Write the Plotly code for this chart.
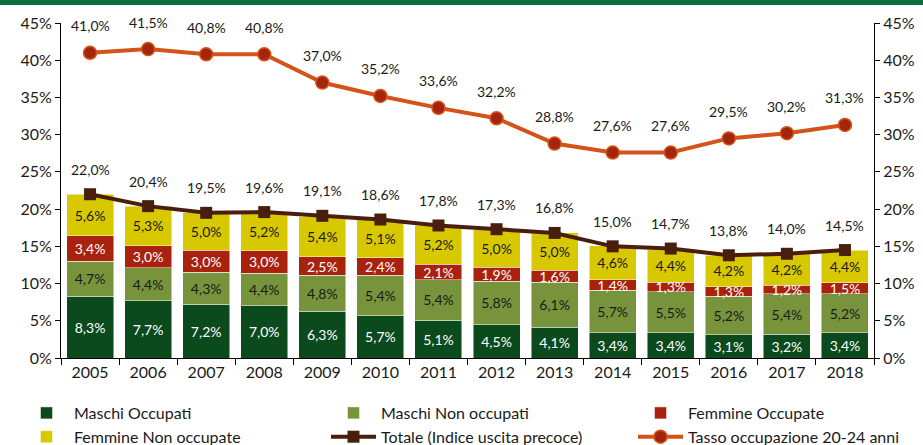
import plotly.graph_objects as go

years = ["2005","2006","2007","2008","2009","2010","2011","2012","2013","2014","2015","2016","2017","2018"]
maschi_occ = [8.3,7.7,7.2,7.0,6.3,5.7,5.1,4.5,4.1,3.4,3.4,3.1,3.2,3.4]
maschi_non = [4.7,4.4,4.3,4.4,4.8,5.4,5.4,5.8,6.1,5.7,5.5,5.2,5.4,5.2]
femm_occ = [3.4,3.0,3.0,3.0,2.5,2.4,2.1,1.9,1.6,1.4,1.3,1.3,1.2,1.5]
femm_non = [5.6,5.3,5.0,5.2,5.4,5.1,5.2,5.0,5.0,4.6,4.4,4.2,4.2,4.4]
totale = [22.0,20.4,19.5,19.6,19.1,18.6,17.8,17.3,16.8,15.0,14.7,13.8,14.0,14.5]
tasso = [41.0,41.5,40.8,40.8,37.0,35.2,33.6,32.2,28.8,27.6,27.6,29.5,30.2,31.3]

FONT = "Lato"
W, H = 923, 445
L, R, T, B = 61, 49, 23, 87

fig = go.Figure()
bars = [
    ("Maschi Occupati", maschi_occ, "#0b4a1c", "white", "legend"),
    ("Maschi Non occupati", maschi_non, "#77933c", "#1a1a1a", "legend2"),
    ("Femmine Occupate", femm_occ, "#a8220e", "white", "legend3"),
    ("Femmine Non occupate", femm_non, "#d8c800", "#1a1a1a", "legend"),
]
for name, vals, col, tcol, lg in bars:
    fig.add_trace(go.Bar(
        x=years, y=vals, name=name, legend=lg,
        marker=dict(color=col, line=dict(color="rgba(255,255,255,0.6)", width=0.8)),
        texttemplate="%{y:.1f}%", textposition="inside", insidetextanchor="middle",
        textfont=dict(color=tcol, size=14, family=FONT), textangle=0,
        constraintext="none", cliponaxis=False,
    ))

fig.add_trace(go.Scatter(
    x=years, y=totale, name="Totale (Indice uscita precoce)", mode="lines+markers",
    legend="legend2",
    line=dict(color="#4a1e0c", width=4),
    marker=dict(symbol="square", size=12, color="#4a1e0c"),
))
fig.add_trace(go.Scatter(
    x=years, y=tasso, name="Tasso occupazione 20-24 anni", mode="lines+markers",
    legend="legend3",
    line=dict(color="#d4531a", width=4),
    marker=dict(symbol="circle", size=13, color="#a3260c", line=dict(color="#d4531a", width=1.5)),
    xaxis="x", yaxis="y2",
))

anns = []
for i, v in enumerate(totale):
    anns.append(dict(x=i, y=v, xref="x", yref="y", text=f"{v:.1f}%".replace(".", ","), showarrow=False,
                     yshift=25, font=dict(size=14, family=FONT, color="#1a1a1a")))
for i, v in enumerate(tasso):
    anns.append(dict(x=i, y=v, xref="x", yref="y2", text=f"{v:.1f}%".replace(".", ","), showarrow=False,
                     yshift=27, font=dict(size=14, family=FONT, color="#1a1a1a")))

pw = W - L - R
ph = H - T - B

def leg(xpx):
    return dict(orientation="v", xref="container", yref="container",
                x=xpx / W, xanchor="left", y=1 - 396 / H, yanchor="top",
                font=dict(size=16, family=FONT), traceorder="normal",
                tracegroupgap=0, itemwidth=45, bgcolor="rgba(0,0,0,0)")

fig.update_layout(
    width=W, height=H, margin=dict(l=L, r=R, t=T, b=B, autoexpand=False),
    barmode="stack", bargap=0.19, separators=",.",
    plot_bgcolor="white", paper_bgcolor="white",
    font=dict(family=FONT, size=16, color="#1a1a1a"),
    annotations=anns,
    xaxis=dict(type="category", categoryorder="array", categoryarray=years,
               range=[-0.5, len(years) - 0.5], autorange=False,
               showline=True, linecolor="black", linewidth=1, ticks="outside",
               tickson="boundaries", ticklen=6, tickcolor="black",
               tickfont=dict(size=16, family=FONT)),
    yaxis=dict(range=[0, 45], dtick=5, ticksuffix="%", showgrid=False,
               showline=True, linecolor="black", ticks="outside", ticklen=5,
               tickcolor="black", zeroline=False, tickfont=dict(size=16, family=FONT)),
    yaxis2=dict(range=[0, 45], dtick=5, ticksuffix="%", showgrid=False, overlaying="y",
                side="right", showline=True, linecolor="black", ticks="outside", ticklen=5,
                tickcolor="black", zeroline=False, tickfont=dict(size=16, family=FONT)),
    legend=leg(19),
    legend2=leg(326),
    legend3=leg(633),
    shapes=[dict(type="rect", xref="paper", yref="paper",
                 x0=-L / pw, x1=(W - L) / pw, y0=1 + (T - 5) / ph, y1=1 + T / ph + 0.01,
                 fillcolor="#0b6e3d", line=dict(width=0), layer="above")],
)

fig.write_html("out.html", config={"displayModeBar": False},
               post_script="document.body.style.margin='0';document.body.style.padding='0';")
